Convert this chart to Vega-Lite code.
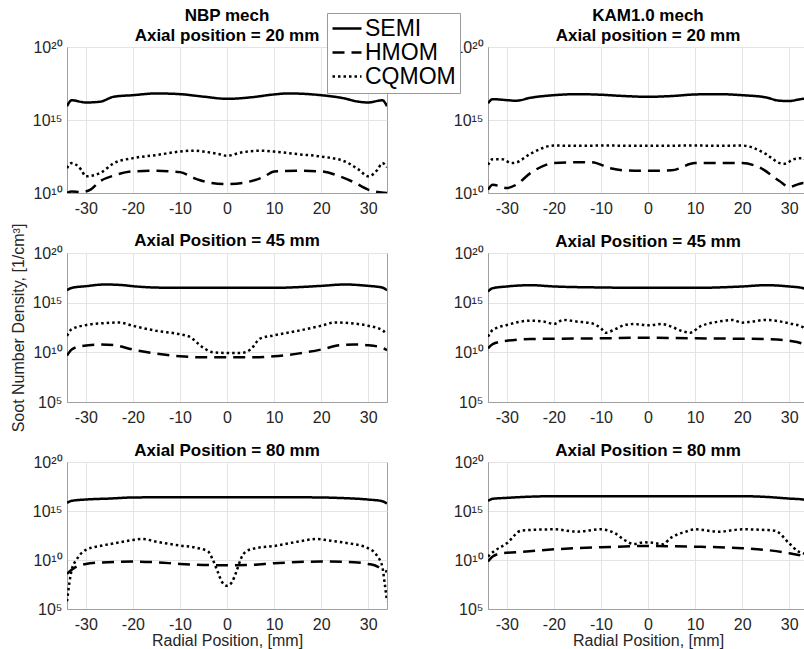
{
  "$schema": "https://vega.github.io/schema/vega-lite/v6.json",
  "background": "white",
  "padding": {"left": 9, "top": 6, "right": 0, "bottom": 0},
  "datasets": {
    "a": [
      {"x": -34, "y": 8.91e15, "s": "SEMI"}, {"x": -33, "y": 2.24e16, "s": "SEMI"}, {"x": -30, "y": 1.58e16, "s": "SEMI"}, {"x": -27, "y": 1.78e16, "s": "SEMI"}, {"x": -24, "y": 3.98e16, "s": "SEMI"}, {"x": -20, "y": 5.01e16, "s": "SEMI"}, {"x": -15, "y": 6.6e16, "s": "SEMI"}, {"x": -10, "y": 5.9e16, "s": "SEMI"}, {"x": -5, "y": 3.98e16, "s": "SEMI"}, {"x": 0, "y": 2.82e16, "s": "SEMI"}, {"x": 5, "y": 3.55e16, "s": "SEMI"}, {"x": 10, "y": 5.62e16, "s": "SEMI"}, {"x": 13, "y": 6.6e16, "s": "SEMI"}, {"x": 20, "y": 5.01e16, "s": "SEMI"}, {"x": 25, "y": 3.0e16, "s": "SEMI"}, {"x": 28, "y": 1.78e16, "s": "SEMI"}, {"x": 30, "y": 1.58e16, "s": "SEMI"}, {"x": 33, "y": 2.24e16, "s": "SEMI"}, {"x": 34, "y": 8.91e15, "s": "SEMI"},
      {"x": -34, "y": 1.0e10, "s": "HMOM"}, {"x": -33, "y": 1.29e10, "s": "HMOM"}, {"x": -31, "y": 1.17e10, "s": "HMOM"}, {"x": -29, "y": 1.7e10, "s": "HMOM"}, {"x": -27, "y": 6.31e10, "s": "HMOM"}, {"x": -24, "y": 1.58e11, "s": "HMOM"}, {"x": -20, "y": 3.02e11, "s": "HMOM"}, {"x": -15, "y": 3.31e11, "s": "HMOM"}, {"x": -10, "y": 2.69e11, "s": "HMOM"}, {"x": -7, "y": 1.05e11, "s": "HMOM"}, {"x": -4, "y": 5.37e10, "s": "HMOM"}, {"x": 0, "y": 4.07e10, "s": "HMOM"}, {"x": 4, "y": 5.37e10, "s": "HMOM"}, {"x": 8, "y": 1.38e11, "s": "HMOM"}, {"x": 10, "y": 3.02e11, "s": "HMOM"}, {"x": 15, "y": 3.31e11, "s": "HMOM"}, {"x": 20, "y": 3.02e11, "s": "HMOM"}, {"x": 24, "y": 1.38e11, "s": "HMOM"}, {"x": 27, "y": 5.37e10, "s": "HMOM"}, {"x": 30, "y": 1.7e10, "s": "HMOM"}, {"x": 32, "y": 1.17e10, "s": "HMOM"}, {"x": 34, "y": 1.0e10, "s": "HMOM"},
      {"x": -34, "y": 5.01e11, "s": "CQMOM"}, {"x": -33, "y": 1.12e12, "s": "CQMOM"}, {"x": -31, "y": 3.98e11, "s": "CQMOM"}, {"x": -30, "y": 1.38e11, "s": "CQMOM"}, {"x": -27, "y": 2.29e11, "s": "CQMOM"}, {"x": -24, "y": 1.12e12, "s": "CQMOM"}, {"x": -20, "y": 2.45e12, "s": "CQMOM"}, {"x": -15, "y": 3.98e12, "s": "CQMOM"}, {"x": -10, "y": 6.9e12, "s": "CQMOM"}, {"x": -7, "y": 7.94e12, "s": "CQMOM"}, {"x": -5, "y": 6.9e12, "s": "CQMOM"}, {"x": -2, "y": 4.79e12, "s": "CQMOM"}, {"x": 0, "y": 3.55e12, "s": "CQMOM"}, {"x": 3, "y": 5.89e12, "s": "CQMOM"}, {"x": 7, "y": 7.94e12, "s": "CQMOM"}, {"x": 10, "y": 6.9e12, "s": "CQMOM"}, {"x": 15, "y": 4.57e12, "s": "CQMOM"}, {"x": 20, "y": 3.16e12, "s": "CQMOM"}, {"x": 25, "y": 1.45e12, "s": "CQMOM"}, {"x": 28, "y": 3.98e11, "s": "CQMOM"}, {"x": 30, "y": 1.38e11, "s": "CQMOM"}, {"x": 32, "y": 3.98e11, "s": "CQMOM"}, {"x": 33, "y": 1.12e12, "s": "CQMOM"}, {"x": 34, "y": 5.89e11, "s": "CQMOM"}
    ],
    "b": [
      {"x": -34, "y": 1.38e16, "s": "SEMI"}, {"x": -33, "y": 2.69e16, "s": "SEMI"}, {"x": -30, "y": 2.29e16, "s": "SEMI"}, {"x": -28, "y": 2.09e16, "s": "SEMI"}, {"x": -25, "y": 3.31e16, "s": "SEMI"}, {"x": -20, "y": 5.01e16, "s": "SEMI"}, {"x": -15, "y": 5.89e16, "s": "SEMI"}, {"x": -10, "y": 5.37e16, "s": "SEMI"}, {"x": -5, "y": 4.37e16, "s": "SEMI"}, {"x": 0, "y": 3.89e16, "s": "SEMI"}, {"x": 5, "y": 4.37e16, "s": "SEMI"}, {"x": 10, "y": 5.62e16, "s": "SEMI"}, {"x": 15, "y": 5.89e16, "s": "SEMI"}, {"x": 20, "y": 5.01e16, "s": "SEMI"}, {"x": 25, "y": 3.55e16, "s": "SEMI"}, {"x": 28, "y": 2.09e16, "s": "SEMI"}, {"x": 30, "y": 2.0e16, "s": "SEMI"}, {"x": 32, "y": 2.51e16, "s": "SEMI"}, {"x": 33, "y": 2.82e16, "s": "SEMI"}, {"x": 34, "y": 1.38e16, "s": "SEMI"},
      {"x": -34, "y": 1.7e10, "s": "HMOM"}, {"x": -33, "y": 3.72e10, "s": "HMOM"}, {"x": -30, "y": 2.19e10, "s": "HMOM"}, {"x": -28, "y": 3.72e10, "s": "HMOM"}, {"x": -25, "y": 2.29e11, "s": "HMOM"}, {"x": -20, "y": 1.12e12, "s": "HMOM"}, {"x": -15, "y": 1.29e12, "s": "HMOM"}, {"x": -12, "y": 1.29e12, "s": "HMOM"}, {"x": -8, "y": 5.01e11, "s": "HMOM"}, {"x": -5, "y": 3.55e11, "s": "HMOM"}, {"x": 0, "y": 3.31e11, "s": "HMOM"}, {"x": 5, "y": 3.55e11, "s": "HMOM"}, {"x": 10, "y": 1.12e12, "s": "HMOM"}, {"x": 15, "y": 1.12e12, "s": "HMOM"}, {"x": 20, "y": 1.12e12, "s": "HMOM"}, {"x": 24, "y": 5.01e11, "s": "HMOM"}, {"x": 28, "y": 6.31e10, "s": "HMOM"}, {"x": 30, "y": 2.57e10, "s": "HMOM"}, {"x": 32, "y": 4.07e10, "s": "HMOM"}, {"x": 33, "y": 4.79e10, "s": "HMOM"}, {"x": 34, "y": 3.16e10, "s": "HMOM"},
      {"x": -34, "y": 8.51e11, "s": "CQMOM"}, {"x": -33, "y": 2.09e12, "s": "CQMOM"}, {"x": -31, "y": 2.09e12, "s": "CQMOM"}, {"x": -29, "y": 1.12e12, "s": "CQMOM"}, {"x": -28, "y": 1.23e12, "s": "CQMOM"}, {"x": -25, "y": 4.79e12, "s": "CQMOM"}, {"x": -20, "y": 1.78e13, "s": "CQMOM"}, {"x": -15, "y": 1.7e13, "s": "CQMOM"}, {"x": -10, "y": 1.78e13, "s": "CQMOM"}, {"x": 0, "y": 1.7e13, "s": "CQMOM"}, {"x": 10, "y": 1.78e13, "s": "CQMOM"}, {"x": 15, "y": 1.7e13, "s": "CQMOM"}, {"x": 20, "y": 1.78e13, "s": "CQMOM"}, {"x": 25, "y": 4.79e12, "s": "CQMOM"}, {"x": 28, "y": 1.12e12, "s": "CQMOM"}, {"x": 29, "y": 1.0e12, "s": "CQMOM"}, {"x": 31, "y": 2.09e12, "s": "CQMOM"}, {"x": 33, "y": 2.45e12, "s": "CQMOM"}, {"x": 34, "y": 8.51e11, "s": "CQMOM"}
    ],
    "c": [
      {"x": -34, "y": 1.78e16, "s": "SEMI"}, {"x": -33, "y": 3.09e16, "s": "SEMI"}, {"x": -30, "y": 4.57e16, "s": "SEMI"}, {"x": -26, "y": 6.76e16, "s": "SEMI"}, {"x": -22, "y": 5.75e16, "s": "SEMI"}, {"x": -20, "y": 4.57e16, "s": "SEMI"}, {"x": -15, "y": 3.31e16, "s": "SEMI"}, {"x": -10, "y": 3.09e16, "s": "SEMI"}, {"x": 0, "y": 3.09e16, "s": "SEMI"}, {"x": 10, "y": 3.09e16, "s": "SEMI"}, {"x": 15, "y": 3.63e16, "s": "SEMI"}, {"x": 20, "y": 4.9e16, "s": "SEMI"}, {"x": 25, "y": 6.76e16, "s": "SEMI"}, {"x": 30, "y": 4.9e16, "s": "SEMI"}, {"x": 33, "y": 3.31e16, "s": "SEMI"}, {"x": 34, "y": 1.78e16, "s": "SEMI"},
      {"x": -34, "y": 4.68e9, "s": "HMOM"}, {"x": -33, "y": 1.91e10, "s": "HMOM"}, {"x": -31, "y": 4.17e10, "s": "HMOM"}, {"x": -27, "y": 6.17e10, "s": "HMOM"}, {"x": -24, "y": 5.25e10, "s": "HMOM"}, {"x": -20, "y": 1.91e10, "s": "HMOM"}, {"x": -15, "y": 7.41e9, "s": "HMOM"}, {"x": -10, "y": 3.98e9, "s": "HMOM"}, {"x": -5, "y": 3.16e9, "s": "HMOM"}, {"x": 0, "y": 3.16e9, "s": "HMOM"}, {"x": 5, "y": 3.16e9, "s": "HMOM"}, {"x": 10, "y": 3.98e9, "s": "HMOM"}, {"x": 15, "y": 7.41e9, "s": "HMOM"}, {"x": 20, "y": 1.91e10, "s": "HMOM"}, {"x": 24, "y": 5.25e10, "s": "HMOM"}, {"x": 27, "y": 6.17e10, "s": "HMOM"}, {"x": 30, "y": 5.25e10, "s": "HMOM"}, {"x": 33, "y": 2.82e10, "s": "HMOM"}, {"x": 34, "y": 1.62e10, "s": "HMOM"},
      {"x": -34, "y": 4.47e11, "s": "CQMOM"}, {"x": -33, "y": 2.14e12, "s": "CQMOM"}, {"x": -30, "y": 5.5e12, "s": "CQMOM"}, {"x": -26, "y": 8.71e12, "s": "CQMOM"}, {"x": -23, "y": 1.02e13, "s": "CQMOM"}, {"x": -20, "y": 4.68e12, "s": "CQMOM"}, {"x": -15, "y": 1.45e12, "s": "CQMOM"}, {"x": -10, "y": 6.61e11, "s": "CQMOM"}, {"x": -8, "y": 3.8e11, "s": "CQMOM"}, {"x": -5, "y": 2.82e10, "s": "CQMOM"}, {"x": -3, "y": 1.02e10, "s": "CQMOM"}, {"x": 0, "y": 8.71e9, "s": "CQMOM"}, {"x": 3, "y": 8.71e9, "s": "CQMOM"}, {"x": 5, "y": 1.91e10, "s": "CQMOM"}, {"x": 7, "y": 2.34e11, "s": "CQMOM"}, {"x": 10, "y": 5.13e11, "s": "CQMOM"}, {"x": 15, "y": 1.45e12, "s": "CQMOM"}, {"x": 20, "y": 4.68e12, "s": "CQMOM"}, {"x": 23, "y": 1.02e13, "s": "CQMOM"}, {"x": 26, "y": 8.71e12, "s": "CQMOM"}, {"x": 30, "y": 4.68e12, "s": "CQMOM"}, {"x": 33, "y": 1.7e12, "s": "CQMOM"}, {"x": 34, "y": 6.61e11, "s": "CQMOM"}
    ],
    "d": [
      {"x": -34, "y": 1.32e16, "s": "SEMI"}, {"x": -33, "y": 2.88e16, "s": "SEMI"}, {"x": -30, "y": 4.27e16, "s": "SEMI"}, {"x": -25, "y": 5.75e16, "s": "SEMI"}, {"x": -20, "y": 4.27e16, "s": "SEMI"}, {"x": -10, "y": 3.39e16, "s": "SEMI"}, {"x": 0, "y": 3.09e16, "s": "SEMI"}, {"x": 10, "y": 3.09e16, "s": "SEMI"}, {"x": 20, "y": 4.27e16, "s": "SEMI"}, {"x": 25, "y": 5.75e16, "s": "SEMI"}, {"x": 30, "y": 4.27e16, "s": "SEMI"}, {"x": 33, "y": 2.88e16, "s": "SEMI"}, {"x": 34, "y": 1.32e16, "s": "SEMI"},
      {"x": -34, "y": 2.45e10, "s": "HMOM"}, {"x": -33, "y": 6.76e10, "s": "HMOM"}, {"x": -30, "y": 1.48e11, "s": "HMOM"}, {"x": -25, "y": 2.19e11, "s": "HMOM"}, {"x": -20, "y": 2.34e11, "s": "HMOM"}, {"x": -10, "y": 2.57e11, "s": "HMOM"}, {"x": 0, "y": 2.95e11, "s": "HMOM"}, {"x": 10, "y": 2.57e11, "s": "HMOM"}, {"x": 20, "y": 2.34e11, "s": "HMOM"}, {"x": 25, "y": 2.19e11, "s": "HMOM"}, {"x": 30, "y": 1.48e11, "s": "HMOM"}, {"x": 33, "y": 6.76e10, "s": "HMOM"}, {"x": 34, "y": 2.51e10, "s": "HMOM"},
      {"x": -34, "y": 3.72e11, "s": "CQMOM"}, {"x": -33, "y": 1.78e12, "s": "CQMOM"}, {"x": -30, "y": 5.62e12, "s": "CQMOM"}, {"x": -25, "y": 1.55e13, "s": "CQMOM"}, {"x": -22, "y": 1.23e13, "s": "CQMOM"}, {"x": -20, "y": 7.08e12, "s": "CQMOM"}, {"x": -18, "y": 1.82e13, "s": "CQMOM"}, {"x": -15, "y": 1.23e13, "s": "CQMOM"}, {"x": -12, "y": 8.32e12, "s": "CQMOM"}, {"x": -10, "y": 2.63e12, "s": "CQMOM"}, {"x": -9, "y": 9.55e11, "s": "CQMOM"}, {"x": -7, "y": 2.09e12, "s": "CQMOM"}, {"x": -5, "y": 5.62e12, "s": "CQMOM"}, {"x": -3, "y": 7.08e12, "s": "CQMOM"}, {"x": 0, "y": 5.25e12, "s": "CQMOM"}, {"x": 3, "y": 7.08e12, "s": "CQMOM"}, {"x": 5, "y": 3.8e12, "s": "CQMOM"}, {"x": 7, "y": 1.51e12, "s": "CQMOM"}, {"x": 9, "y": 9.55e11, "s": "CQMOM"}, {"x": 11, "y": 3.8e12, "s": "CQMOM"}, {"x": 15, "y": 1.23e13, "s": "CQMOM"}, {"x": 18, "y": 1.82e13, "s": "CQMOM"}, {"x": 20, "y": 9.77e12, "s": "CQMOM"}, {"x": 22, "y": 1.23e13, "s": "CQMOM"}, {"x": 25, "y": 1.82e13, "s": "CQMOM"}, {"x": 30, "y": 8.32e12, "s": "CQMOM"}, {"x": 33, "y": 3.31e12, "s": "CQMOM"}, {"x": 34, "y": 3.98e11, "s": "CQMOM"}
    ],
    "e": [
      {"x": -34, "y": 6.76e15, "s": "SEMI"}, {"x": -33, "y": 1.1e16, "s": "SEMI"}, {"x": -30, "y": 1.48e16, "s": "SEMI"}, {"x": -25, "y": 1.86e16, "s": "SEMI"}, {"x": -20, "y": 2.4e16, "s": "SEMI"}, {"x": -10, "y": 2.57e16, "s": "SEMI"}, {"x": 0, "y": 2.57e16, "s": "SEMI"}, {"x": 10, "y": 2.57e16, "s": "SEMI"}, {"x": 20, "y": 2.4e16, "s": "SEMI"}, {"x": 25, "y": 2.04e16, "s": "SEMI"}, {"x": 30, "y": 1.48e16, "s": "SEMI"}, {"x": 33, "y": 1.0e16, "s": "SEMI"}, {"x": 34, "y": 5.89e15, "s": "SEMI"},
      {"x": -34, "y": 3.89e8, "s": "HMOM"}, {"x": -33, "y": 1.0e9, "s": "HMOM"}, {"x": -32, "y": 2.14e9, "s": "HMOM"}, {"x": -30, "y": 3.98e9, "s": "HMOM"}, {"x": -27, "y": 5.5e9, "s": "HMOM"}, {"x": -20, "y": 6.92e9, "s": "HMOM"}, {"x": -15, "y": 5.89e9, "s": "HMOM"}, {"x": -10, "y": 3.98e9, "s": "HMOM"}, {"x": -5, "y": 3.16e9, "s": "HMOM"}, {"x": 0, "y": 2.95e9, "s": "HMOM"}, {"x": 5, "y": 3.16e9, "s": "HMOM"}, {"x": 10, "y": 4.68e9, "s": "HMOM"}, {"x": 20, "y": 6.92e9, "s": "HMOM"}, {"x": 27, "y": 5.89e9, "s": "HMOM"}, {"x": 30, "y": 3.98e9, "s": "HMOM"}, {"x": 32, "y": 2.14e9, "s": "HMOM"}, {"x": 33, "y": 1.0e9, "s": "HMOM"}, {"x": 34, "y": 6.61e8, "s": "HMOM"},
      {"x": -34, "y": 6.03e5, "s": "CQMOM"}, {"x": -33.5, "y": 4.37e7, "s": "CQMOM"}, {"x": -33, "y": 1.0e9, "s": "CQMOM"}, {"x": -32, "y": 1.02e10, "s": "CQMOM"}, {"x": -30, "y": 1.07e11, "s": "CQMOM"}, {"x": -27, "y": 2.69e11, "s": "CQMOM"}, {"x": -24, "y": 5.01e11, "s": "CQMOM"}, {"x": -20, "y": 1.1e12, "s": "CQMOM"}, {"x": -18, "y": 1.38e12, "s": "CQMOM"}, {"x": -15, "y": 7.41e11, "s": "CQMOM"}, {"x": -10, "y": 2.95e11, "s": "CQMOM"}, {"x": -6, "y": 1.58e11, "s": "CQMOM"}, {"x": -4, "y": 7.24e10, "s": "CQMOM"}, {"x": -3, "y": 1.02e10, "s": "CQMOM"}, {"x": -2, "y": 6.61e8, "s": "CQMOM"}, {"x": -1, "y": 5.13e7, "s": "CQMOM"}, {"x": 0, "y": 2.34e7, "s": "CQMOM"}, {"x": 1, "y": 5.13e7, "s": "CQMOM"}, {"x": 2, "y": 6.61e8, "s": "CQMOM"}, {"x": 3, "y": 1.51e10, "s": "CQMOM"}, {"x": 4, "y": 7.24e10, "s": "CQMOM"}, {"x": 6, "y": 1.58e11, "s": "CQMOM"}, {"x": 10, "y": 2.69e11, "s": "CQMOM"}, {"x": 15, "y": 7.41e11, "s": "CQMOM"}, {"x": 19, "y": 1.38e12, "s": "CQMOM"}, {"x": 22, "y": 9.33e11, "s": "CQMOM"}, {"x": 25, "y": 5.89e11, "s": "CQMOM"}, {"x": 30, "y": 1.58e11, "s": "CQMOM"}, {"x": 32, "y": 2.24e10, "s": "CQMOM"}, {"x": 33, "y": 2.14e9, "s": "CQMOM"}, {"x": 33.5, "y": 4.37e7, "s": "CQMOM"}, {"x": 34, "y": 6.03e5, "s": "CQMOM"}
    ],
    "f": [
      {"x": -34, "y": 1.1e16, "s": "SEMI"}, {"x": -33, "y": 1.74e16, "s": "SEMI"}, {"x": -30, "y": 2.19e16, "s": "SEMI"}, {"x": -20, "y": 3.24e16, "s": "SEMI"}, {"x": -10, "y": 3.24e16, "s": "SEMI"}, {"x": 0, "y": 3.24e16, "s": "SEMI"}, {"x": 10, "y": 3.24e16, "s": "SEMI"}, {"x": 20, "y": 3.24e16, "s": "SEMI"}, {"x": 25, "y": 2.75e16, "s": "SEMI"}, {"x": 30, "y": 1.86e16, "s": "SEMI"}, {"x": 33, "y": 1.48e16, "s": "SEMI"}, {"x": 34, "y": 1.0e16, "s": "SEMI"},
      {"x": -34, "y": 6.92e9, "s": "HMOM"}, {"x": -33, "y": 2.24e10, "s": "HMOM"}, {"x": -31, "y": 4.9e10, "s": "HMOM"}, {"x": -28, "y": 6.17e10, "s": "HMOM"}, {"x": -20, "y": 1.23e11, "s": "HMOM"}, {"x": -10, "y": 2.0e11, "s": "HMOM"}, {"x": 0, "y": 2.69e11, "s": "HMOM"}, {"x": 10, "y": 2.29e11, "s": "HMOM"}, {"x": 20, "y": 1.58e11, "s": "HMOM"}, {"x": 25, "y": 1.07e11, "s": "HMOM"}, {"x": 30, "y": 4.9e10, "s": "HMOM"}, {"x": 33, "y": 2.24e10, "s": "HMOM"}, {"x": 34, "y": 1.0e10, "s": "HMOM"},
      {"x": -34, "y": 2.24e10, "s": "CQMOM"}, {"x": -33, "y": 6.17e10, "s": "CQMOM"}, {"x": -30, "y": 5.01e11, "s": "CQMOM"}, {"x": -27, "y": 9.77e12, "s": "CQMOM"}, {"x": -25, "y": 1.15e13, "s": "CQMOM"}, {"x": -20, "y": 1.35e13, "s": "CQMOM"}, {"x": -15, "y": 7.76e12, "s": "CQMOM"}, {"x": -10, "y": 1.35e13, "s": "CQMOM"}, {"x": -7, "y": 5.25e12, "s": "CQMOM"}, {"x": -5, "y": 1.1e12, "s": "CQMOM"}, {"x": -3, "y": 4.27e11, "s": "CQMOM"}, {"x": -1, "y": 6.31e11, "s": "CQMOM"}, {"x": 1, "y": 5.89e11, "s": "CQMOM"}, {"x": 3, "y": 3.98e11, "s": "CQMOM"}, {"x": 5, "y": 2.04e12, "s": "CQMOM"}, {"x": 8, "y": 7.76e12, "s": "CQMOM"}, {"x": 10, "y": 1.35e13, "s": "CQMOM"}, {"x": 15, "y": 7.76e12, "s": "CQMOM"}, {"x": 20, "y": 1.35e13, "s": "CQMOM"}, {"x": 25, "y": 1.15e13, "s": "CQMOM"}, {"x": 27, "y": 9.77e12, "s": "CQMOM"}, {"x": 30, "y": 5.01e11, "s": "CQMOM"}, {"x": 32, "y": 7.24e10, "s": "CQMOM"}, {"x": 33, "y": 4.9e10, "s": "CQMOM"}, {"x": 34, "y": 2.24e10, "s": "CQMOM"}
    ]
  },
  "columns": 2,
  "bounds": "flush",
  "spacing": {"row": 60, "column": 101},
  "concat": [
    {
      "width": 320, "height": 146,
      "title": {"text": ["NBP mech", "Axial position = 20 mm"]},
      "data": {"name": "a"},
      "mark": {"type": "line", "color": "black", "strokeWidth": 2.5, "strokeCap": "butt", "clip": true, "interpolate": "monotone"},
      "encoding": {
        "x": {"field": "x", "type": "quantitative", "scale": {"domain": [-34, 34], "nice": false, "zero": false}, "axis": {"values": [-30, -20, -10, 0, 10, 20, 30], "title": null}},
        "y": {"field": "y", "type": "quantitative", "scale": {"type": "log", "domain": [1e10, 1e20], "nice": false}, "axis": {"values": [1e10, 1e15, 1e20], "title": null}},
        "strokeDash": {"field": "s", "type": "nominal", "scale": {"domain": ["SEMI", "HMOM", "CQMOM"], "range": [[1, 0], [12, 7], [2.5, 3]]},
          "legend": {"title": null, "orient": "none", "legendX": 260, "legendY": -34, "symbolType": "stroke", "symbolSize": 841, "symbolStrokeWidth": 2.5, "symbolStrokeColor": "black", "labelFontSize": 23, "labelFont": "Liberation Sans", "labelColor": "black", "labelOffset": 2, "strokeColor": "#9a9a9a", "fillColor": "white", "padding": 4, "clipHeight": 23, "rowPadding": -1}}
      }
    },
    {
      "width": 320, "height": 146,
      "title": {"text": ["KAM1.0 mech", "Axial position = 20 mm"]},
      "data": {"name": "b"},
      "mark": {"type": "line", "color": "black", "strokeWidth": 2.5, "strokeCap": "butt", "clip": true, "interpolate": "monotone"},
      "encoding": {
        "x": {"field": "x", "type": "quantitative", "scale": {"domain": [-34, 34], "nice": false, "zero": false}, "axis": {"values": [-30, -20, -10, 0, 10, 20, 30], "title": null}},
        "y": {"field": "y", "type": "quantitative", "scale": {"type": "log", "domain": [1e10, 1e20], "nice": false}, "axis": {"values": [1e10, 1e15, 1e20], "title": null}},
        "strokeDash": {"field": "s", "type": "nominal", "scale": {"domain": ["SEMI", "HMOM", "CQMOM"], "range": [[1, 0], [12, 7], [2.5, 3]]}}
      }
    },
    {
      "width": 320, "height": 149,
      "title": {"text": "Axial Position = 45 mm", "offset": -27},
      "data": {"name": "c"},
      "mark": {"type": "line", "color": "black", "strokeWidth": 2.5, "strokeCap": "butt", "clip": true, "interpolate": "monotone"},
      "encoding": {
        "x": {"field": "x", "type": "quantitative", "scale": {"domain": [-34, 34], "nice": false, "zero": false}, "axis": {"values": [-30, -20, -10, 0, 10, 20, 30], "title": null}},
        "y": {"field": "y", "type": "quantitative", "scale": {"type": "log", "domain": [1e5, 1e20], "nice": false}, "axis": {"values": [1e5, 1e10, 1e15, 1e20], "title": "Soot Number Density, [1/cm³]"}},
        "strokeDash": {"field": "s", "type": "nominal", "scale": {"domain": ["SEMI", "HMOM", "CQMOM"], "range": [[1, 0], [12, 7], [2.5, 3]]}}
      }
    },
    {
      "width": 320, "height": 149,
      "title": {"text": "Axial Position = 45 mm"},
      "data": {"name": "d"},
      "mark": {"type": "line", "color": "black", "strokeWidth": 2.5, "strokeCap": "butt", "clip": true, "interpolate": "monotone"},
      "encoding": {
        "x": {"field": "x", "type": "quantitative", "scale": {"domain": [-34, 34], "nice": false, "zero": false}, "axis": {"values": [-30, -20, -10, 0, 10, 20, 30], "title": null}},
        "y": {"field": "y", "type": "quantitative", "scale": {"type": "log", "domain": [1e5, 1e20], "nice": false}, "axis": {"values": [1e5, 1e10, 1e15, 1e20], "title": null}},
        "strokeDash": {"field": "s", "type": "nominal", "scale": {"domain": ["SEMI", "HMOM", "CQMOM"], "range": [[1, 0], [12, 7], [2.5, 3]]}}
      }
    },
    {
      "width": 320, "height": 147,
      "title": {"text": "Axial Position = 80 mm"},
      "data": {"name": "e"},
      "mark": {"type": "line", "color": "black", "strokeWidth": 2.5, "strokeCap": "butt", "clip": true, "interpolate": "monotone"},
      "encoding": {
        "x": {"field": "x", "type": "quantitative", "scale": {"domain": [-34, 34], "nice": false, "zero": false}, "axis": {"values": [-30, -20, -10, 0, 10, 20, 30], "title": "Radial Position, [mm]"}},
        "y": {"field": "y", "type": "quantitative", "scale": {"type": "log", "domain": [1e5, 1e20], "nice": false}, "axis": {"values": [1e5, 1e10, 1e15, 1e20], "title": null}},
        "strokeDash": {"field": "s", "type": "nominal", "scale": {"domain": ["SEMI", "HMOM", "CQMOM"], "range": [[1, 0], [12, 7], [2.5, 3]]}}
      }
    },
    {
      "width": 320, "height": 147,
      "title": {"text": "Axial Position = 80 mm"},
      "data": {"name": "f"},
      "mark": {"type": "line", "color": "black", "strokeWidth": 2.5, "strokeCap": "butt", "clip": true, "interpolate": "monotone"},
      "encoding": {
        "x": {"field": "x", "type": "quantitative", "scale": {"domain": [-34, 34], "nice": false, "zero": false}, "axis": {"values": [-30, -20, -10, 0, 10, 20, 30], "title": "Radial Position, [mm]"}},
        "y": {"field": "y", "type": "quantitative", "scale": {"type": "log", "domain": [1e5, 1e20], "nice": false}, "axis": {"values": [1e5, 1e10, 1e15, 1e20], "title": null}},
        "strokeDash": {"field": "s", "type": "nominal", "scale": {"domain": ["SEMI", "HMOM", "CQMOM"], "range": [[1, 0], [12, 7], [2.5, 3]]}}
      }
    }
  ],
  "config": {
    "font": "Liberation Sans",
    "view": {"stroke": "#a0a0a0"},
    "axis": {
      "gridColor": "#e4e4e4", "domainColor": "#a0a0a0", "ticks": false, "labelPadding": 5,
      "labelFont": "Liberation Sans", "labelFontSize": 16, "labelColor": "#262626", "labelFlush": false, "labelOverlap": false,
      "titleFont": "Liberation Sans", "titleFontSize": 16, "titleFontWeight": "normal", "titleColor": "#262626", "titlePadding": 6
    },
    "axisX": {"labelPadding": 7, "titlePadding": 0, "labelExpr": "'' + datum.value"},
    "axisY": {"labelExpr": "datum.value > 1e17 ? '10²⁰' : datum.value > 1e12 ? '10¹⁵' : datum.value > 1e7 ? '10¹⁰' : '10⁵'"},
    "title": {"font": "Liberation Sans", "fontSize": 17, "fontWeight": "bold", "color": "black", "offset": -6, "frame": "group", "lineHeight": 20, "anchor": "middle"}
  }
}
